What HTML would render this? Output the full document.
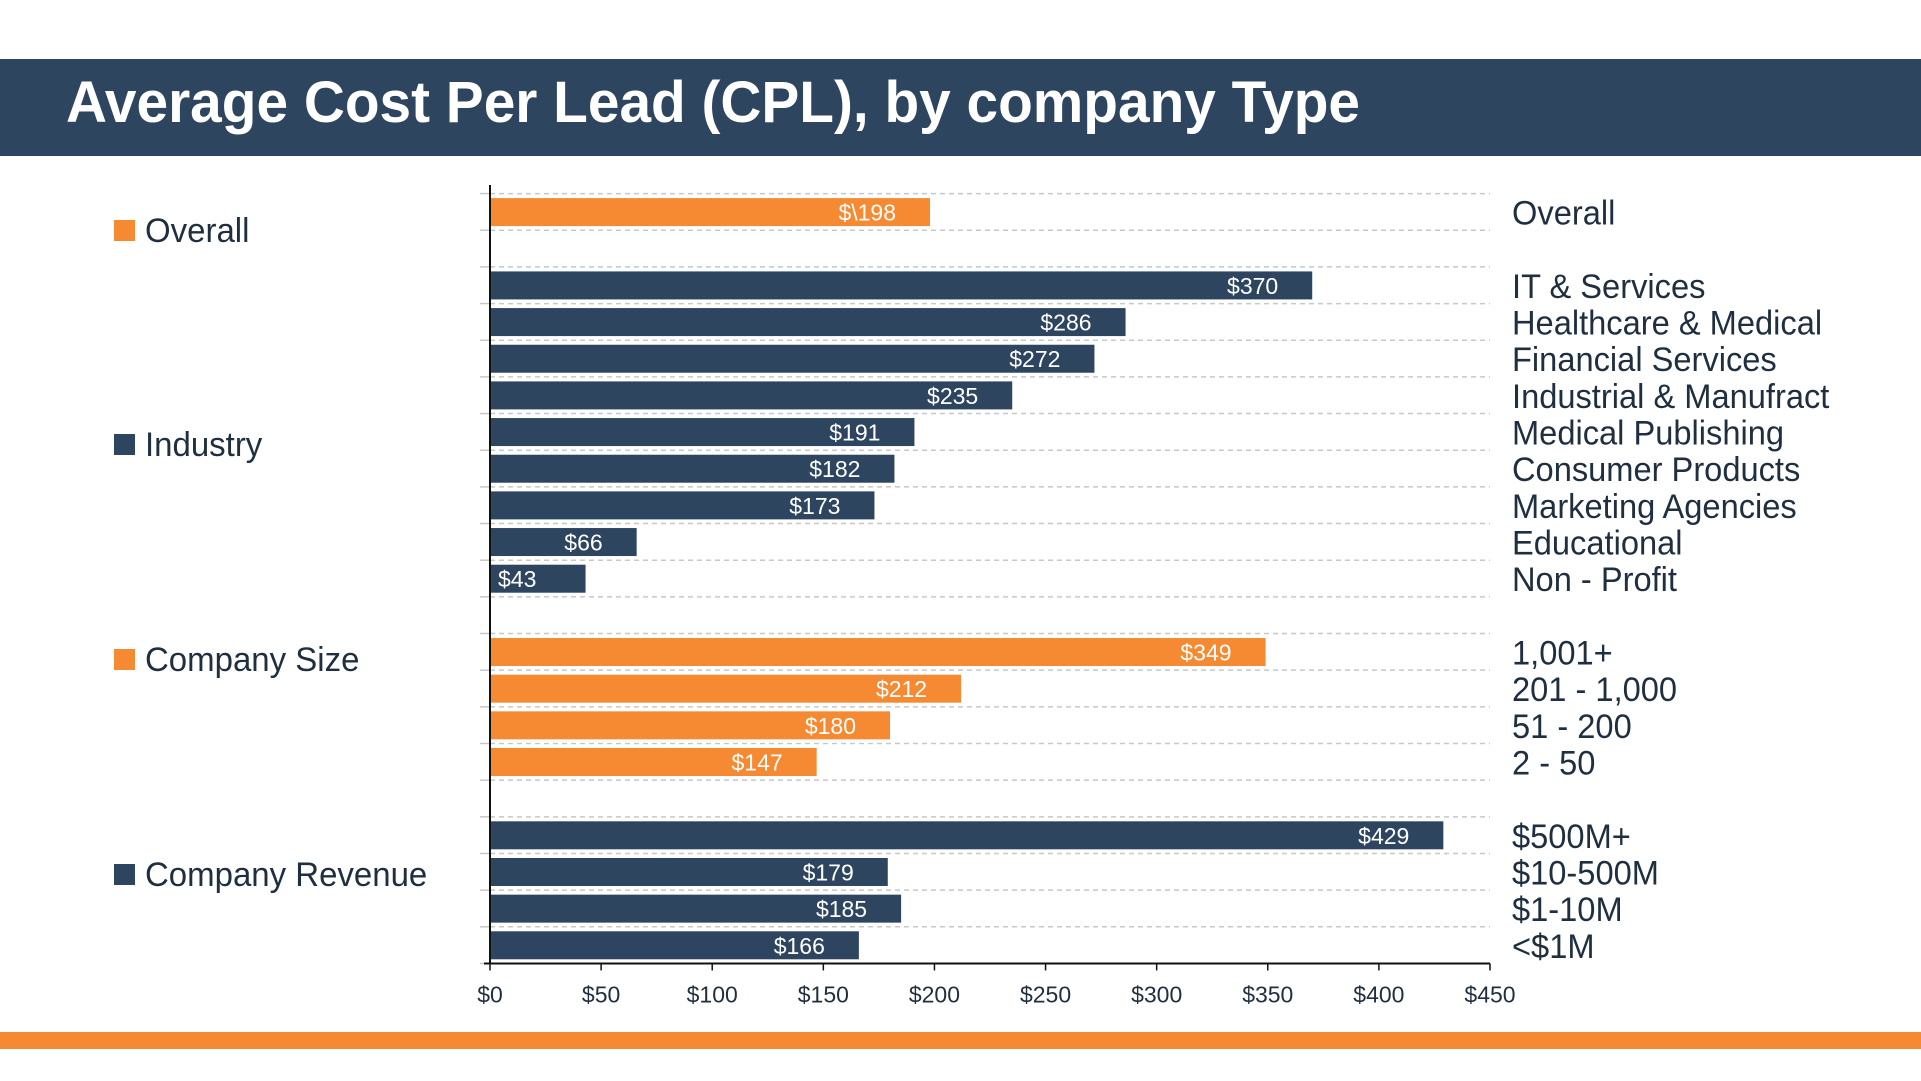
<!DOCTYPE html>
<html><head><meta charset="utf-8"><style>
html,body{margin:0;padding:0;background:#fff;}
svg{display:block;font-family:"Liberation Sans",sans-serif;}
</style></head><body>
<svg id="chart" width="1921" height="1081" viewBox="0 0 1921 1081">
<rect x="0" y="59" width="1921" height="97" fill="#2E4560"/>
<text x="66" y="122" fill="#fff" font-size="58" font-weight="bold" textLength="1294" lengthAdjust="spacingAndGlyphs">Average Cost Per Lead (CPL), by company Type</text>
<rect x="0" y="1032" width="1921" height="17" fill="#F58A32"/>
<g id="grid"></g><g id="bars"></g><g id="labels"></g><g id="legend"></g><g id="axis"></g>
</svg>
<script>
const categories = ["Overall","","IT & Services","Healthcare & Medical","Financial Services","Industrial & Manufract","Medical Publishing","Consumer Products","Marketing Agencies","Educational","Non - Profit","","1,001+","201 - 1,000","51 - 200","2 - 50","","$500M+","$10-500M","$1-10M","<$1M"];
const values = [198,null,370,286,272,235,191,182,173,66,43,null,349,212,180,147,null,429,179,185,166];
const valueLabels = ["$\\198","","$370","$286","$272","$235","$191","$182","$173","$66","$43","","$349","$212","$180","$147","","$429","$179","$185","$166"];
const groups = [0,-1,1,1,1,1,1,1,1,1,1,-1,2,2,2,2,-1,3,3,3,3];
const groupNames = ["Overall","Industry","Company Size","Company Revenue"];
const tickValues = [0,50,100,150,200,250,300,350,400,450];
const tickLabels = ["$0","$50","$100","$150","$200","$250","$300","$350","$400","$450"];

const NS="http://www.w3.org/2000/svg";
const X0=490, X1=1490, MAXV=450, TOP=193.6, ROWH=36.66;
const colors=["#F58A32","#2E4560","#F58A32","#2E4560"];
const xs=v=>X0+(v/MAXV)*(X1-X0);
const ry=i=>TOP+i*ROWH;
function mk(tag,attrs,parent){const e=document.createElementNS(NS,tag);for(const k in attrs)e.setAttribute(k,attrs[k]);parent.appendChild(e);return e;}
const G=id=>document.getElementById(id);

for(let i=0;i<=categories.length;i++){
  const y=ry(i);
  const l=mk('line',{x1:X0,x2:X1,y1:y,y2:y,stroke:'#c8c8c8','stroke-width':1.5,'stroke-dasharray':'5,4'},G('grid'));
  
  
  const t=mk('line',{x1:X0-10,x2:X0,y1:y,y2:y,stroke:'#c8c8c8','stroke-width':1.5},G('grid'));
  
  
}
categories.forEach((c,i)=>{
  if(values[i]==null) return;
  const y=ry(i), g=groups[i];
  const r=mk('rect',{x:X0,y:y+4.5,width:xs(values[i])-X0,height:28,fill:colors[g]},G('bars'));
  
  
  const end=xs(values[i]);
  let tx=end-34, anchor='end';
  if(end-X0<130){tx=X0+8;anchor='start';}
  const vt=mk('text',{x:tx,y:y+27,fill:'#fff','font-size':23,'text-anchor':anchor},G('labels'));
  vt.textContent=valueLabels[i];
  
  
  const ct=mk('text',{x:0,y:0,fill:'#1f2f40','font-size':34,transform:`translate(1512,${y+31}) scale(0.96,1)`},G('labels'));
  ct.textContent=c;
  
  
});
const legY=[230,444,659,874];
groupNames.forEach((n,k)=>{
  const s=mk('rect',{x:114,y:legY[k]-10,width:21,height:21,fill:colors[k]},G('legend'));
  
  
  const t=mk('text',{x:0,y:0,fill:'#1f2f40','font-size':34,transform:`translate(145,${legY[k]+12}) scale(0.97,1)`},G('legend'));
  t.textContent=n;
  
  
});
const ax=G('axis'), YB=ry(categories.length);
const va=mk('line',{x1:X0,x2:X0,y1:185,y2:YB,stroke:'#111','stroke-width':2},ax);


const ha=mk('line',{x1:X0-6,x2:X1,y1:YB,y2:YB,stroke:'#111','stroke-width':2},ax);


tickValues.forEach((v,k)=>{
  const x=xs(v);
  const t=mk('line',{x1:x,x2:x,y1:YB,y2:YB+7,stroke:'#111','stroke-width':1.5},ax);
  
  
  const tl=mk('text',{x:x,y:YB+39,fill:'#1f2f40','font-size':23,'text-anchor':'middle'},ax);
  tl.textContent=tickLabels[k];
  
  
});
</script>
</body></html>
